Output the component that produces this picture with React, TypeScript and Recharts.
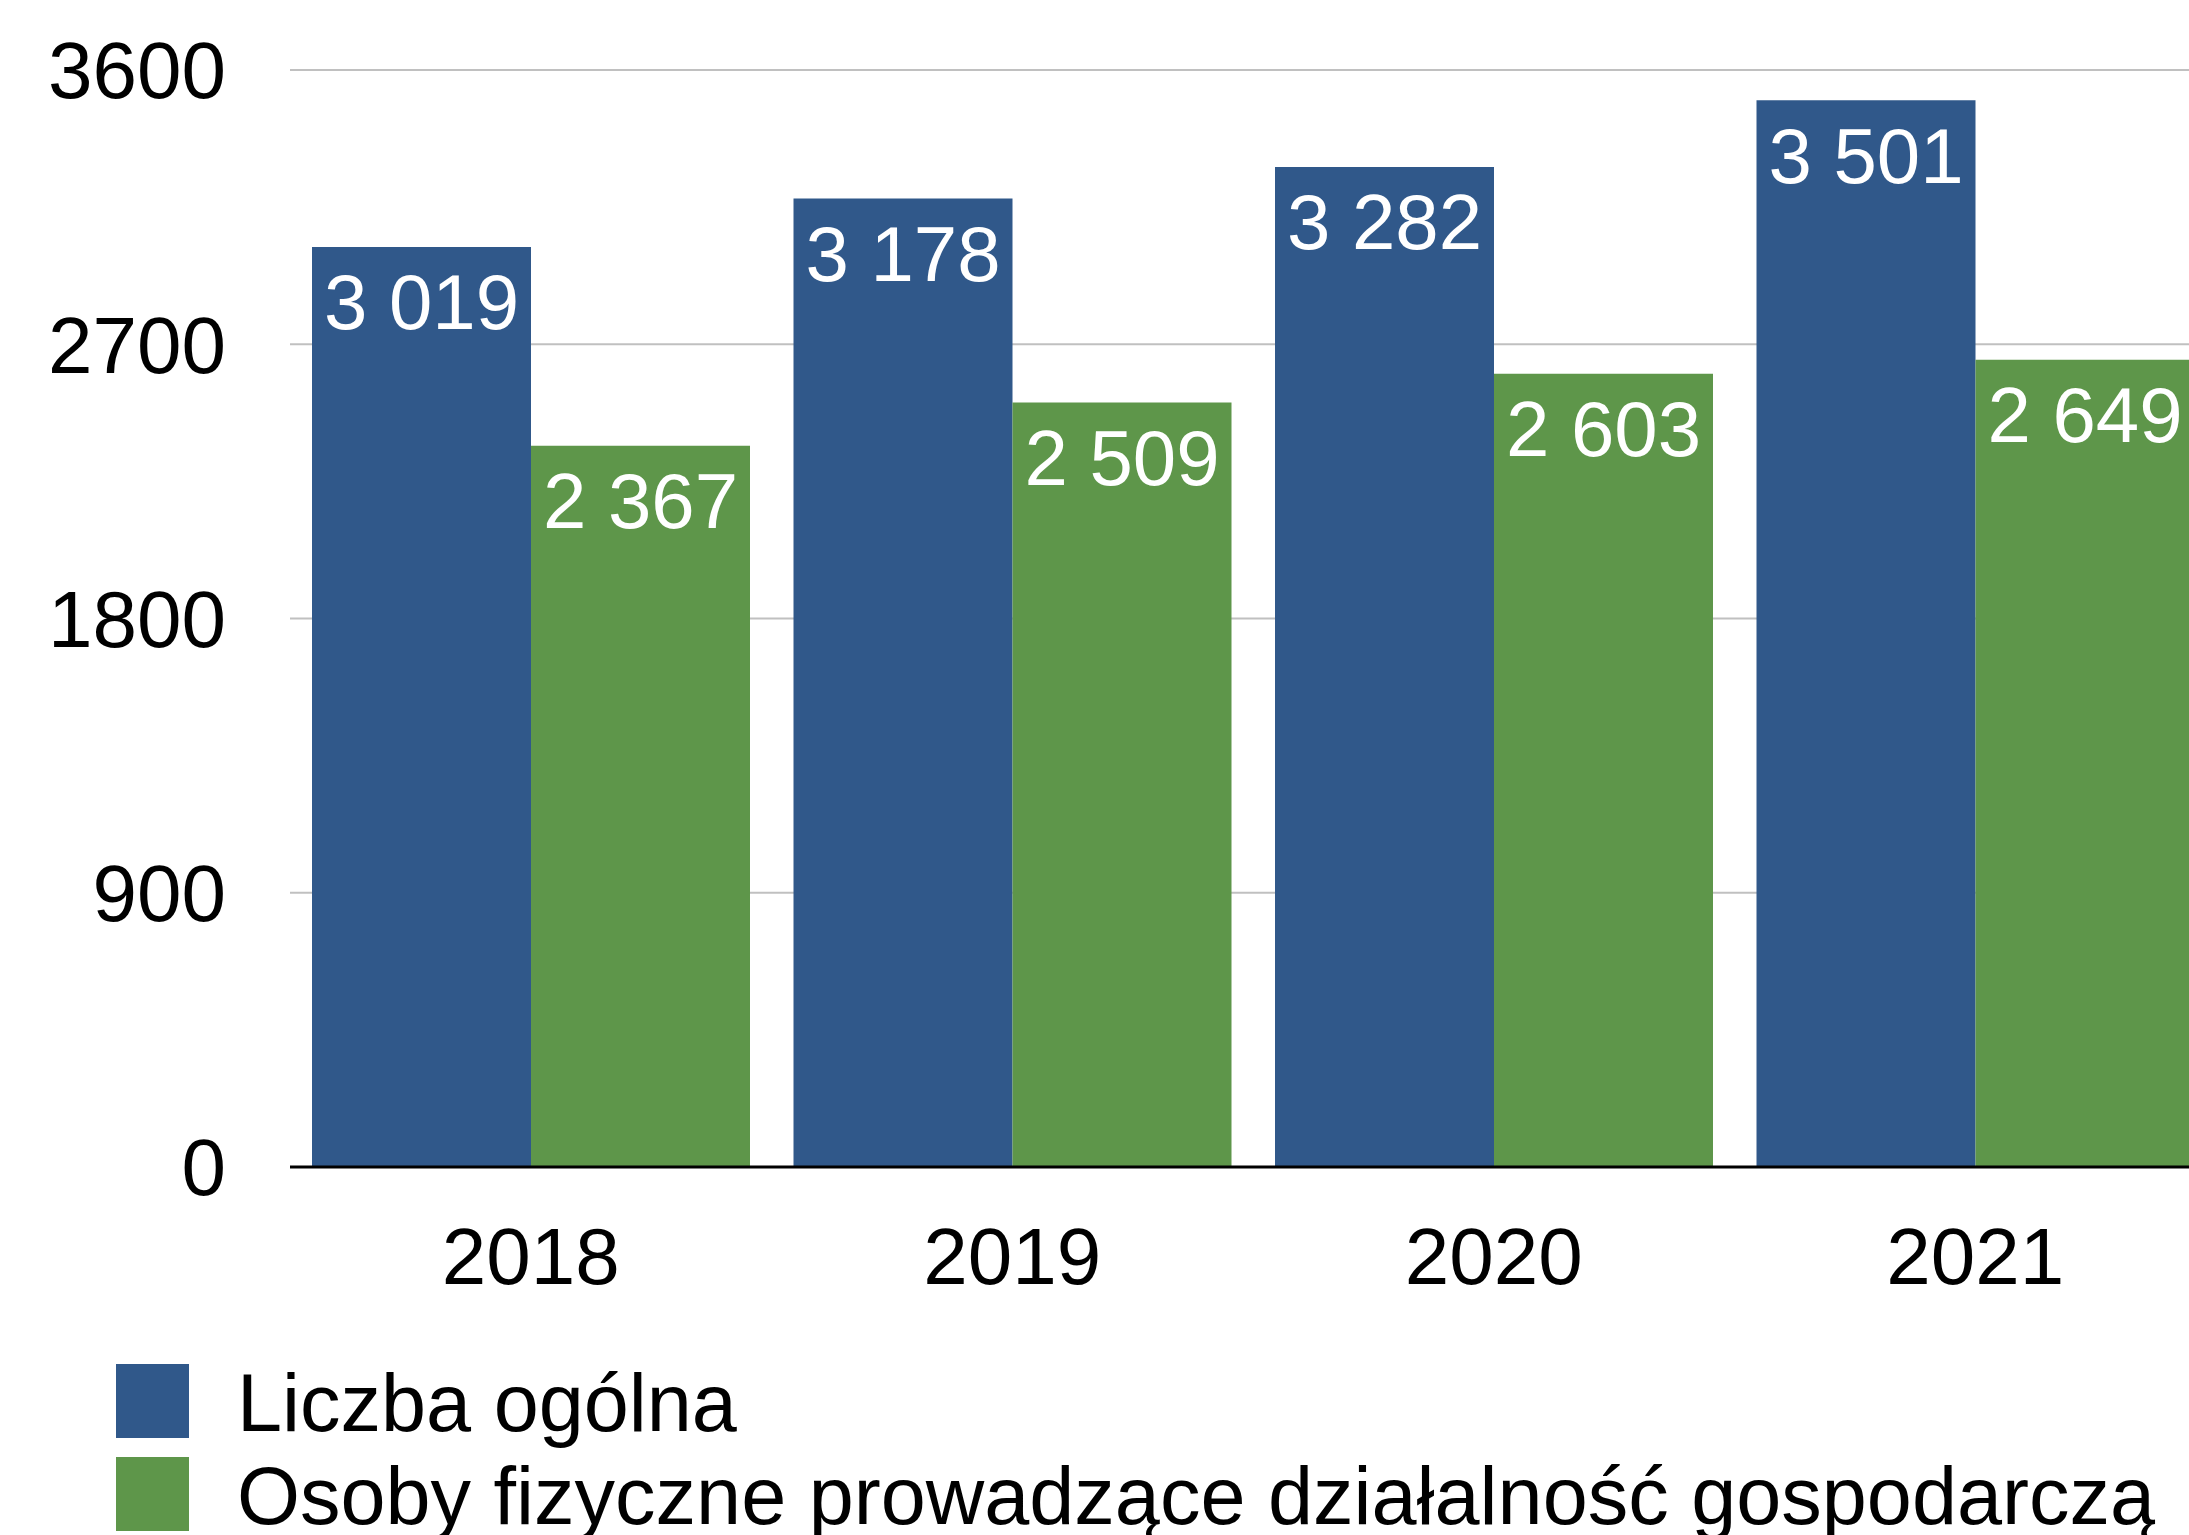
import { BarChart, Bar, XAxis, YAxis, CartesianGrid, LabelList } from "recharts";

const years = ["2018", "2019", "2020", "2021"];
const liczbaOgolna = [3019, 3178, 3282, 3501];
const osobyFizyczne = [2367, 2509, 2603, 2649];
const yTicks = [0, 900, 1800, 2700, 3600];

const BLUE = "#30588a";
const GREEN = "#5e964a";
const FONT = "'Liberation Sans', Arial, Helvetica, sans-serif";

const data = years.map((year, i) => ({
  year,
  ogolna: liczbaOgolna[i],
  osoby: osobyFizyczne[i],
}));

const fmt = (v: any) => String(v).replace(/\B(?=(\d{3})+(?!\d))/g, " ");

const legendItems = [
  { label: "Liczba ogólna", color: BLUE, top: 1364 },
  { label: "Osoby fizyczne prowadzące działalność gospodarczą", color: GREEN, top: 1457 },
];

export default function App() {
  return (
    <div
      style={{
        position: "absolute",
        left: 0,
        top: 0,
        width: 2189,
        height: 1535,
        overflow: "hidden",
        background: "#fff",
        fontFamily: FONT,
      }}
    >
      <BarChart
        width={2236}
        height={1535}
        data={data}
        margin={{ top: 70, right: 20, left: 0, bottom: 0 }}
        barCategoryGap={22}
        barGap={0}
      >
        <CartesianGrid vertical={false} stroke="#c0c0c0" strokeWidth={2} />
        <XAxis
          dataKey="year"
          height={368}
          tickLine={false}
          tickSize={0}
          tickMargin={60}
          axisLine={{ stroke: "#000", strokeWidth: 3 }}
          tick={{ fill: "#000", fontSize: 80, fontFamily: FONT }}
        />
        <YAxis
          width={290}
          domain={[0, 3600]}
          ticks={yTicks}
          interval={0}
          axisLine={false}
          tickLine={false}
          tickSize={0}
          tickMargin={64}
          tick={{ fill: "#000", fontSize: 80, fontFamily: FONT }}
        />
        <Bar dataKey="ogolna" name="Liczba ogólna" fill={BLUE} isAnimationActive={false}>
          <LabelList
            dataKey="ogolna"
            position="insideTop"
            offset={27}
            fill="#fff"
            fontSize={78}
            fontFamily={FONT}
            formatter={fmt}
          />
        </Bar>
        <Bar dataKey="osoby" name="Osoby fizyczne prowadzące działalność gospodarczą" fill={GREEN} isAnimationActive={false}>
          <LabelList
            dataKey="osoby"
            position="insideTop"
            offset={27}
            fill="#fff"
            fontSize={78}
            fontFamily={FONT}
            formatter={fmt}
          />
        </Bar>
      </BarChart>
      {legendItems.map((item) => (
        <div key={item.label}>
          <div
            style={{
              position: "absolute",
              left: 116,
              top: item.top,
              width: 73,
              height: 74,
              background: item.color,
            }}
          />
          <div
            style={{
              position: "absolute",
              left: 237,
              top: item.top - 1,
              fontSize: 81,
              lineHeight: "81px",
              color: "#000",
              whiteSpace: "nowrap",
            }}
          >
            {item.label}
          </div>
        </div>
      ))}
    </div>
  );
}
